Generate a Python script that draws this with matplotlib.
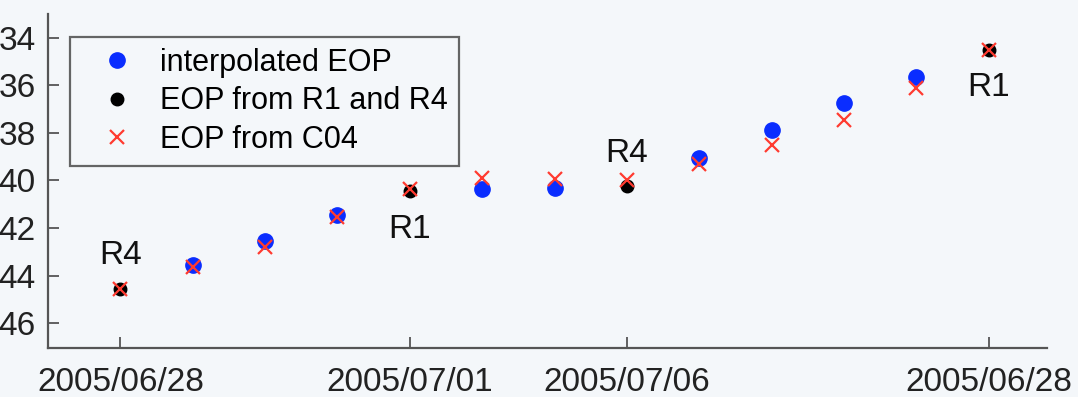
import matplotlib.pyplot as plt

# epoch index along the x axis
epochs = list(range(13))
tick_pos = [0, 4, 7, 12]
tick_labels = ["2005/06/28", "2005/07/01", "2005/07/06", "2005/06/28"]

# interpolated EOP (between sessions)
interp_x = [1, 2, 3, 5, 6, 8, 9, 10, 11]
interp_y = [43.55, 42.55, 41.45, 40.35, 40.3, 39.05, 37.9, 36.75, 35.65]

# EOP from R1 and R4 sessions
sess_x = [0, 4, 7, 12]
sess_y = [44.55, 40.45, 40.25, 34.5]
sess_names = ["R4", "R1", "R4", "R1"]
sess_above = [True, False, True, False]

# EOP from C04
c04_y = [44.55, 43.65, 42.8, 41.55, 40.35, 39.9, 39.95, 40.0, 39.3, 38.5, 37.45, 36.1, 34.5]

bg = '#f4f7fa'
plt.rcParams['font.family'] = ['Liberation Sans', 'DejaVu Sans']

fig = plt.figure(figsize=(10.78, 3.97), dpi=100, facecolor=bg)
ax = fig.add_axes([0.0445, 0.1234, 0.9265, 0.8413])
ax.set_facecolor(bg)

ax.plot(interp_x, interp_y, 'o', color='#0a2dff', markersize=11, label='interpolated EOP', zorder=3)
ax.plot(sess_x, sess_y, 'o', color='black', markersize=9, label='EOP from R1 and R4', zorder=4)
ax.plot(epochs, c04_y, 'x', color='#ff3b30', markersize=10, markeredgewidth=1.6, label='EOP from C04', zorder=5)

for x, y, name, above in zip(sess_x, sess_y, sess_names, sess_above):
    off = -1.4 if above else 1.6
    ax.text(x, y + off, name, ha='center', va='center', fontsize=24, color='#111111')

ax.set_xlim(-1, 12.8)
ax.set_ylim(47.05, 33)
ax.set_yticks([34, 36, 38, 40, 42, 44, 46])
ax.set_xticks(tick_pos)
ax.set_xticklabels(tick_labels)

for s in ['top', 'right']:
    ax.spines[s].set_visible(False)
for s in ['left', 'bottom']:
    ax.spines[s].set_color('#555555')
    ax.spines[s].set_linewidth(1.6)

ax.tick_params(axis='both', direction='in', length=8, width=1.3, color='#555555',
               labelsize=24, labelcolor='#222222')
ax.tick_params(axis='y', pad=9)
ax.tick_params(axis='x', pad=14)

leg = ax.legend(loc='upper left', bbox_to_anchor=(0.022, 0.931), fontsize=22,
                frameon=True, fancybox=False, borderpad=0.35, labelspacing=0.28,
                handletextpad=0.2, borderaxespad=0, handlelength=2.4)
leg.get_frame().set_edgecolor('#404040')
leg.get_frame().set_linewidth(1.6)
leg.get_frame().set_facecolor(bg)

fig.savefig('out.png', dpi=100, facecolor=bg)
